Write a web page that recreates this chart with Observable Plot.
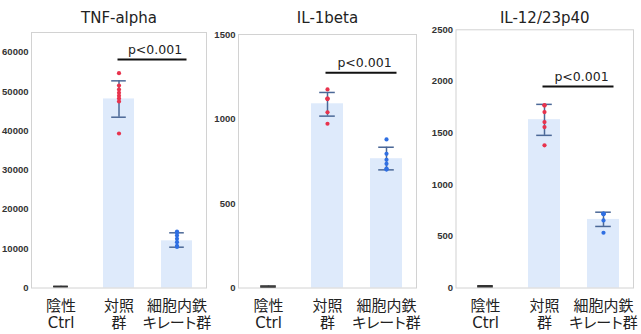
<!DOCTYPE html>
<html><head><meta charset="utf-8">
<script src="https://cdn.jsdelivr.net/npm/d3@7"></script>
<script src="https://cdn.jsdelivr.net/npm/@observablehq/plot@0.6"></script>
<style>
body{margin:0;background:#fff;}
#wrap{display:flex;width:641px;height:334px;overflow:hidden;}
#wrap svg{flex:none;}
svg text{font-feature-settings:"palt";}
</style></head><body><div id="wrap"></div>
<script>
// ---- data ----
const groups = ["陰性\nCtrl", "対照\n群", "細胞内鉄\nキレート群"];
const titles = ["TNF-alpha", "IL-1beta", "IL-12/23p40"];
const yMax = [65000, 1500, 2500];
const yTicks = [
  [0, 10000, 20000, 30000, 40000, 50000, 60000],
  [0, 500, 1000, 1500],
  [0, 500, 1000, 1500, 2000, 2500]
];
// bar means per group (Ctrl, 対照, キレート)
const means = [[380, 48100, 12000], [9, 1090, 765], [17, 1630, 664]];
const errLow = [[330, 43450, 10380], [6, 1017, 699], [12, 1478, 596]];
const errHigh = [[430, 52700, 14040], [12, 1157, 833], [22, 1778, 734]];
// individual points: control group (対照) and chelate group
const ctrlPoints = [
  [54640, 51510, 50500, 49660, 48890, 48200, 47440, 39300],
  [1175, 1120, 1118, 1121, 1040, 972],
  [1770, 1766, 1703, 1607, 1558, 1381]
];
const chelPoints = [
  [14370, 14050, 13350, 12520, 11650, 10740, 10450],
  [879, 794, 759, 735, 706, 703, 701],
  [721, 719, 717, 715, 654, 535]
];
const sigY = [58100, 1273, 1950];
const sigLabel = "p<0.001";

// ---- layout ----
const panelW = [213, 212, 216];
const mLeft = [31, 25, 30.5];
const mRight = [7, 9, 8];
const mTop = [32, 34, 29.3];
const H = 334, mBottom = 46.5;

const latin = "'DejaVu Sans', 'Noto Sans CJK JP', sans-serif";
const barFill = "#deeafb";
const errColor = "#4b6897";
const red = "#e8334d";
const blue = "#2f6fe2";

const wrap = document.getElementById("wrap");
for (let p = 0; p < 3; p++) {
  const summary = groups.map((g, i) => ({group: g, mean: means[p][i], lo: errLow[p][i], hi: errHigh[p][i]}));
  const pts = [
    ...ctrlPoints[p].map(v => ({group: groups[1], v, c: red})),
    ...chelPoints[p].map(v => ({group: groups[2], v, c: blue}))
  ];
  const chart = Plot.plot({
    width: panelW[p], height: H,
    marginLeft: mLeft[p], marginRight: mRight[p], marginTop: mTop[p], marginBottom: mBottom,
    style: {fontFamily: latin, background: "transparent", overflow: "visible"},
    x: {domain: groups, paddingInner: 0.46, paddingOuter: 0.23},
    y: {domain: [0, yMax[p]]},
    marks: [
      Plot.barY(summary.filter(d => d.group !== groups[0]), {x: "group", y: "mean", fill: barFill}),
      Plot.frame({stroke: "#d2d2d2", strokeWidth: 1}),
      Plot.ruleX(summary, {x: "group", y1: "lo", y2: "hi", stroke: errColor, strokeWidth: 1.5}),
      Plot.tickY(summary, {x: "group", y: "lo", stroke: d => d.group === groups[0] ? "#333" : errColor, strokeWidth: 1.5, insetLeft: 8.2, insetRight: 8.2}),
      Plot.tickY(summary, {x: "group", y: "hi", stroke: d => d.group === groups[0] ? "#333" : errColor, strokeWidth: 1.5, insetLeft: 8.2, insetRight: 8.2}),
      Plot.dot(pts, {x: "group", y: "v", fill: "c", r: 2.1, stroke: null}),
      Plot.ruleY([sigY[p]], {y: d => d, x1: () => groups[1], x2: () => groups[2], insetLeft: 14.5, insetRight: 5.5, stroke: "#111", strokeWidth: 2}),
      Plot.text([sigLabel], {x: () => groups[2], y: () => sigY[p], text: d => d, dx: -22, dy: -10, fontSize: 12.5, fill: "#222", fontFamily: latin}),
      Plot.text([titles[p]], {frameAnchor: "top", text: d => d, dy: 18 - mTop[p], lineAnchor: "middle", fontSize: 15, fill: "#222", fontFamily: latin}),
      Plot.axisY({ticks: yTicks[p], tickFormat: d => String(d), tickSize: 0, tickPadding: 3, fontSize: 9.5, fontWeight: "bold", fill: "#333", fontFamily: "'Liberation Sans', Arial, sans-serif", label: null}),
      Plot.axisX({tickSize: 0, tickPadding: 11, fontSize: 15, lineHeight: 1.15, fill: "#222", label: null, fontFamily: latin})
    ]
  });
  wrap.appendChild(chart);
}
</script></body></html>
